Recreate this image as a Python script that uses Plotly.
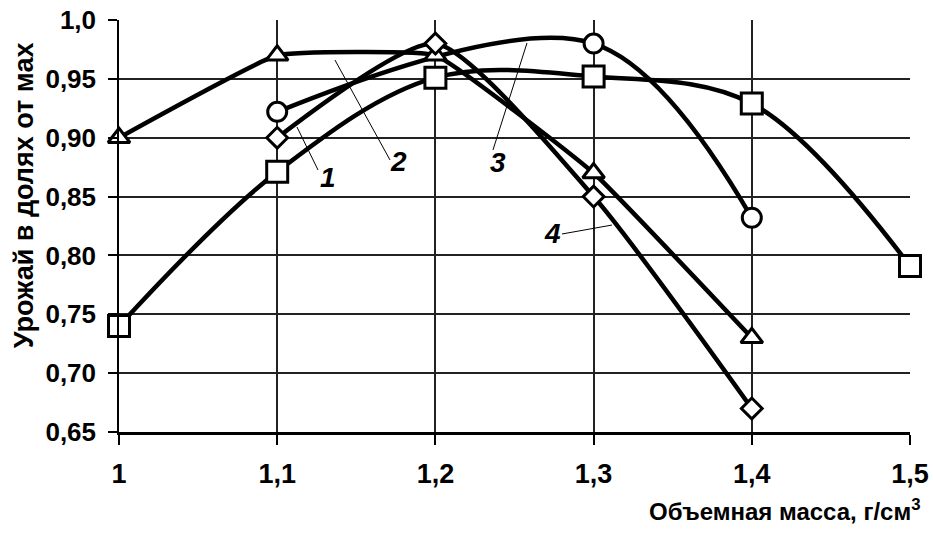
import plotly.graph_objects as go

# Data
x_diamond = [1.1, 1.2, 1.3, 1.4]
y_diamond = [0.90, 0.98, 0.85, 0.67]

x_triangle = [1.0, 1.1, 1.2, 1.3, 1.4]
y_triangle = [0.90, 0.97, 0.97, 0.87, 0.73]

x_circle = [1.1, 1.3, 1.4]
y_circle = [0.922, 0.98, 0.832]

x_square = [1.0, 1.1, 1.2, 1.3, 1.4, 1.5]
y_square = [0.74, 0.871, 0.951, 0.952, 0.929, 0.791]

x_ticks = [1.0, 1.1, 1.2, 1.3, 1.4, 1.5]
x_ticktext = ["1", "1,1", "1,2", "1,3", "1,4", "1,5"]
y_ticks = [0.65, 0.70, 0.75, 0.80, 0.85, 0.90, 0.95, 1.0]
y_ticktext = ["0,65", "0,70", "0,75", "0,80", "0,85", "0,90", "0,95", "1,0"]

# Curve labels and leader lines (data coordinates)
label_text = ["1", "2", "3", "4"]
label_x = [1.132, 1.1764, 1.2396, 1.2743]
label_y = [0.8658, 0.8794, 0.879, 0.819]
leader_x0 = [1.1258, 1.1713, 1.2364, 1.28]
leader_y0 = [0.8726, 0.8811, 0.8896, 0.8182]
leader_x1 = [1.1125, 1.1365, 1.2579, 1.3116]
leader_y1 = [0.9091, 0.966, 0.9805, 0.8258]

FONT = "Liberation Sans, Arial, sans-serif"

fig = go.Figure()

def add(xs, ys, symbol, size, smoothing):
    fig.add_trace(go.Scatter(
        x=xs, y=ys, mode="lines+markers",
        line=dict(color="black", width=4.5, shape="spline", smoothing=smoothing),
        marker=dict(symbol=symbol, size=size, color="white",
                    line=dict(color="black", width=3)),
        showlegend=False, cliponaxis=False, hoverinfo="skip",
    ))

add(x_circle, y_circle, "circle", 19, 1.0)
add(x_square, y_square, "square", 21, 1.0)
add(x_triangle, y_triangle, "triangle-up", 19, 0.3)
add(x_diamond, y_diamond, "diamond", 16, 0.6)

for i in range(len(label_text)):
    fig.add_shape(type="line", xref="x", yref="y",
                  x0=leader_x0[i], y0=leader_y0[i], x1=leader_x1[i], y1=leader_y1[i],
                  line=dict(color="black", width=1))
    fig.add_annotation(x=label_x[i], y=label_y[i], text="<i><b>%s</b></i>" % label_text[i],
                       showarrow=False, font=dict(family=FONT, size=28, color="black"),
                       xanchor="center", yanchor="middle")

# Axis titles
fig.add_annotation(xref="paper", yref="paper", x=1.016, y=-0.19,
                   text="Объемная масса, г/см<sup>3</sup>", showarrow=False,
                   xanchor="right", yanchor="middle",
                   font=dict(family=FONT, size=24, color="black", weight="bold"))
fig.add_annotation(xref="paper", yref="paper", x=-0.12, y=0.575,
                   text="Урожай в долях от мах", showarrow=False, textangle=-90,
                   xanchor="center", yanchor="middle",
                   font=dict(family=FONT, size=27, color="black", weight="bold"))

fig.update_xaxes(
    range=[1.0, 1.5], tickvals=x_ticks, ticktext=x_ticktext,
    showgrid=True, gridcolor="#222", gridwidth=1.5,
    showline=True, linecolor="black", linewidth=2.5,
    ticks="outside", ticklen=10, tickcolor="black", tickwidth=1.5,
    ticklabeloverflow="allow", ticklabelstandoff=6,
    tickfont=dict(family=FONT, size=27, color="black", weight="bold"),
    zeroline=False, automargin=False,
)
fig.update_yaxes(
    range=[0.65, 1.0], tickvals=y_ticks, ticktext=y_ticktext,
    showgrid=True, gridcolor="#222", gridwidth=1.5,
    showline=True, linecolor="black", linewidth=1.5,
    ticks="outside", ticklen=9, tickcolor="black", tickwidth=1.5,
    ticklabelstandoff=7, ticklabeloverflow="allow",
    tickfont=dict(family=FONT, size=26, color="black", weight="bold"),
    zeroline=False, automargin=False,
)

fig.update_layout(
    width=933, height=538,
    margin=dict(l=119, r=23, t=20, b=106),
    paper_bgcolor="white", plot_bgcolor="white",
)

fig.write_html("out.html", config={"displayModeBar": False},
               post_script="document.body.style.margin='0';")
